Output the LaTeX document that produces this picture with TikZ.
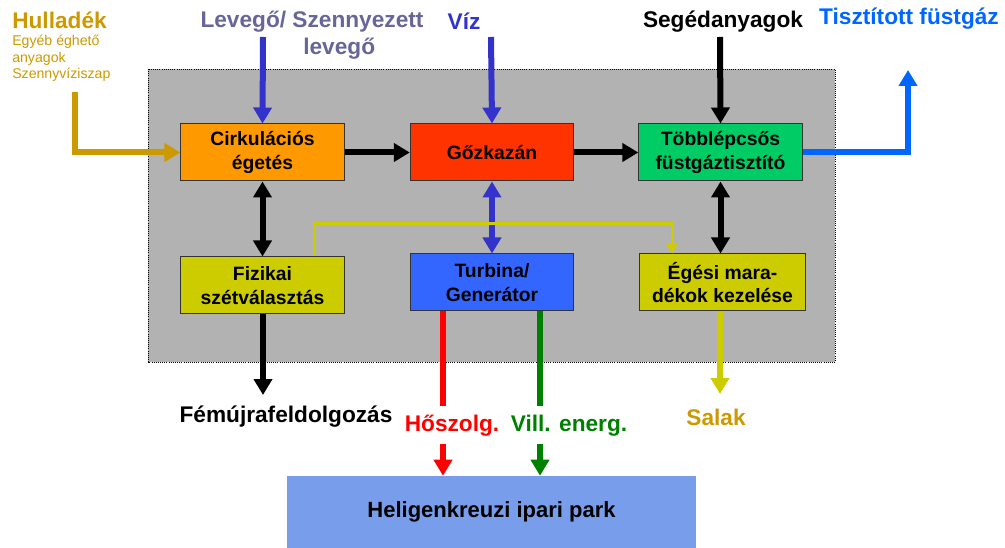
\documentclass[tikz,border=0pt]{standalone}
\usepackage{fontspec}
\setmainfont{Liberation Sans}
\usetikzlibrary{arrows.meta}
\definecolor{arany}{HTML}{CC9900}
\definecolor{narancs}{HTML}{FF9900}
\definecolor{piros}{HTML}{FF3300}
\definecolor{zold}{HTML}{00CC66}
\definecolor{olive}{HTML}{CCCC00}
\definecolor{turbkek}{HTML}{3366FF}
\definecolor{parkkek}{HTML}{789EEB}
\definecolor{hatter}{HTML}{B2B2B2}
\definecolor{lila}{HTML}{666699}
\definecolor{vizkek}{HTML}{3333CC}
\definecolor{fustkek}{HTML}{0066FF}
\definecolor{villzold}{HTML}{008000}
\tikzset{
  doboz/.style={draw=black!80,line width=0.75pt,minimum width=122.5pt,minimum height=42.75pt,
    align=center,font=\fontsize{14.5}{17.5}\selectfont\bfseries,inner sep=1pt},
  felirat/.style={font=\fontsize{17}{20}\selectfont\bfseries,inner sep=0pt,align=center},
  nyil/.style={line width=4.5pt,-{Triangle[width=13.5pt,length=12pt]}},
  kettos/.style={line width=4.5pt,{Triangle[width=13.5pt,length=12pt]}-{Triangle[width=13.5pt,length=12pt]}},
  vonal/.style={line width=4.5pt}
}
\begin{document}
\begin{tikzpicture}[x=0.75pt,y=-0.75pt]
  \useasboundingbox (0,0) rectangle (1005,548);
  % szurke hatter
  \draw[densely dotted,line width=0.6pt,fill=hatter] (148,69) rectangle (835,362);
  % dobozok
  \node[doboz,fill=narancs] (cirk) at (262.5,152.5) {Cirkulációs\\égetés};
  \node[doboz,fill=piros] (gozk) at (492,152.5) {Gőzkazán};
  \node[doboz,fill=zold] (tobb) at (720.5,152.5) {Többlépcsős\\füstgáztisztító};
  \node[doboz,fill=olive] (fiz) at (262.5,285.5) {Fizikai\\szétválasztás};
  \node[doboz,fill=turbkek] (turb) at (492,282.5) {Turbina/\\Generátor};
  \node[doboz,fill=olive,minimum width=125pt] (eges) at (722.5,282.5) {Égési mara-\\dékok kezelése};
  \node[fill=parkkek,minimum width=306.75pt,minimum height=54pt,
    font=\fontsize{16.5}{20}\selectfont\bfseries] (park) at (491.5,512) {Heligenkreuzi ipari park};
  % feliratok
  \node[felirat,text=arany,anchor=west] (hull) at (12,20) {Hulladék};
  \node[anchor=north west,inner sep=0pt,align=left,text=arany,
    font=\fontsize{10.6}{12.4}\selectfont] (hullki) at (12,35) {Egyéb éghető\\anyagok\\Szennyvíziszap};
  \node[felirat,text=lila] (levego) at (312,35) {Levegő/ Szennyezett\\\hspace*{2.4em}levegő};
  \node[felirat,text=vizkek] (viz) at (464,21) {Víz};
  \node[felirat] (seged) at (723,22) {Segédanyagok};
  \node[felirat,text=fustkek] (tiszt) at (909,19) {Tisztított füstgáz};
  \node[felirat] (fem) at (286,417) {Fémújrafeldolgozás};
  \node[felirat,text=red] (hosz) at (452,426) {Hőszolg.};
  \node[felirat,text=villzold] (vill) at (569,426) {Vill. energ.};
  \node[felirat,text=arany] (salak) at (716,417) {Salak};
  % szabad vegek
  \coordinate (h0) at (75,92);
  \coordinate (l0) at (263,37);
  \coordinate (v0) at (491,37);
  \coordinate (s0) at (720,37);
  \coordinate (fu) at (908,70);
  \coordinate (fe) at (263,395);
  \coordinate (sa) at (720,394);
  \coordinate (yl) at (314,224);
  \coordinate (yr) at (672,224);
  \coordinate (r1) at (443,406);
  \coordinate (r2) at (443,444);
  \coordinate (g1) at (540,406);
  \coordinate (g2) at (540,444);
  % bemenetek
  \draw[nyil,arany] (h0) |- (cirk.west);
  \draw[nyil,vizkek] (l0) -- (cirk.north);
  \draw[nyil,vizkek] (v0) -- (gozk.north);
  \draw[nyil] (s0) -- (tobb.north);
  % fo folyamat
  \draw[nyil] (cirk.east) -- (gozk.west);
  \draw[nyil] (gozk.east) -- (tobb.west);
  \draw[nyil,fustkek] (tobb.east) -| (fu);
  \draw[kettos] (cirk.south) -- (fiz.north -| cirk.south);
  \draw[kettos,vizkek] (gozk.south) -- (turb.north);
  \draw[kettos] (tobb.south) -- (eges.north -| tobb.south);
  % sarga osszekotes
  \draw[olive,line width=2.25pt,-{Triangle[width=8pt,length=7pt]}]
    (fiz.north -| yl) -- (yl) -- (yr) -- (eges.north -| yr);
  % kimenetek
  \draw[nyil] (fiz.south -| fe) -- (fe);
  \draw[nyil,olive] (eges.south -| sa) -- (sa);
  \draw[vonal,red] (turb.south -| r1) -- (r1);
  \draw[nyil,red] (r2) -- (park.north -| r2);
  \draw[vonal,villzold] (turb.south -| g1) -- (g1);
  \draw[nyil,villzold] (g2) -- (park.north -| g2);
\end{tikzpicture}
\end{document}
